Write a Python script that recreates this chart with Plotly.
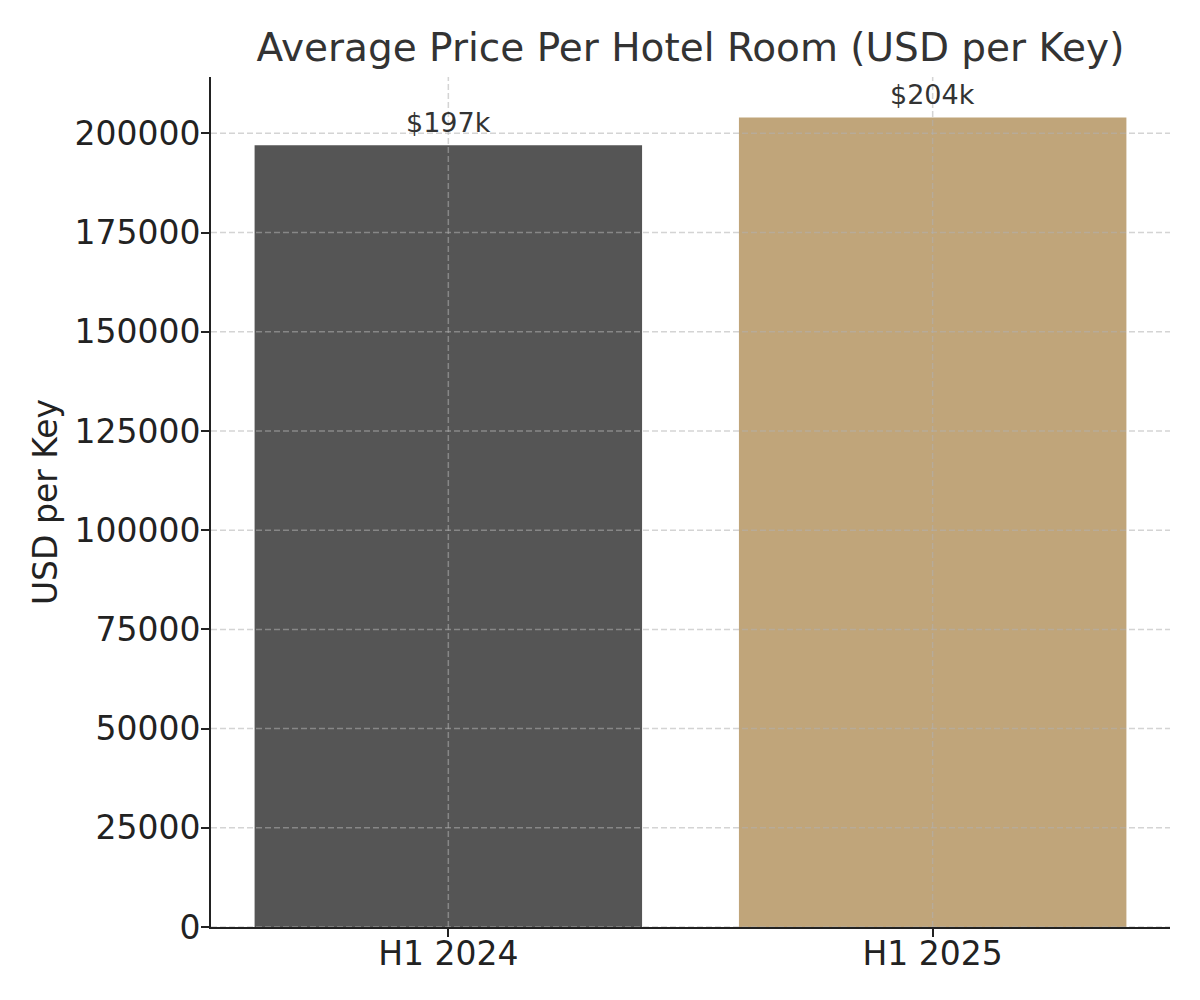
import plotly.graph_objects as go

# data
periods = ["H1 2024", "H1 2025"]
price_per_key = [197000, 204000]
bar_labels = ["$197k", "$204k"]
bar_colors = ["#555555", "#c0a57a"]
y_ticks = [0, 25000, 50000, 75000, 100000, 125000, 150000, 175000, 200000]

FONT = "DejaVu Sans"
GRID = "rgba(176,176,176,0.55)"
AXIS = "#222222"

fig = go.Figure(go.Bar(
    x=periods,
    y=price_per_key,
    width=0.8,
    marker=dict(color=bar_colors, line=dict(width=0)),
    hoverinfo="skip",
))

# value labels above the bars
for p, v, lab in zip(periods, price_per_key, bar_labels):
    fig.add_annotation(
        x=p, y=v, text=lab, showarrow=False,
        yanchor="bottom", yshift=5,
        font=dict(family=FONT, size=27, color="#333333"),
    )

# matplotlib draws the dashed grid on top of the bars, plotly puts it below,
# so the grid is laid over as shapes at the tick positions
for t in y_ticks:
    fig.add_shape(type="line", xref="paper", yref="y", x0=0, x1=1, y0=t, y1=t,
                  line=dict(color=GRID, width=1.5, dash="6px,3px"), layer="above")
for p in periods:
    fig.add_shape(type="line", xref="x", yref="paper", x0=p, x1=p, y0=0, y1=1,
                  line=dict(color=GRID, width=1.5, dash="6px,3px"), layer="above")

ymax = max(price_per_key) * 1.05

fig.update_layout(
    width=1200,
    height=1000,
    paper_bgcolor="white",
    plot_bgcolor="white",
    margin=dict(l=203, r=38, t=69, b=81),
    showlegend=False,
    font=dict(family=FONT, color=AXIS),
    title=dict(
        text="Average Price Per Hotel Room (USD per Key)",
        x=0.5, xref="paper", xanchor="center",
        y=0.961, yref="container", yanchor="middle",
        font=dict(family=FONT, size=39, color="#333333"),
    ),
    xaxis=dict(
        type="category",
        range=[-0.49, 1.49],
        showgrid=False,
        showline=True, linecolor=AXIS, linewidth=2,
        ticks="outside", ticklen=8, tickwidth=2, tickcolor=AXIS,
        ticklabelstandoff=-12,
        tickfont=dict(family=FONT, size=33, color=AXIS),
    ),
    yaxis=dict(
        range=[0, ymax],
        tickmode="array", tickvals=y_ticks,
        ticktext=[str(t) for t in y_ticks],
        showgrid=False, zeroline=False,
        showline=True, linecolor=AXIS, linewidth=2,
        ticks="outside", ticklen=8, tickwidth=2, tickcolor=AXIS,
        ticklabelstandoff=-6,
        tickfont=dict(family=FONT, size=33, color=AXIS),
        title=dict(text="USD per Key", standoff=7,
                   font=dict(family=FONT, size=33, color=AXIS)),
    ),
)

fig.write_html("out.html")
